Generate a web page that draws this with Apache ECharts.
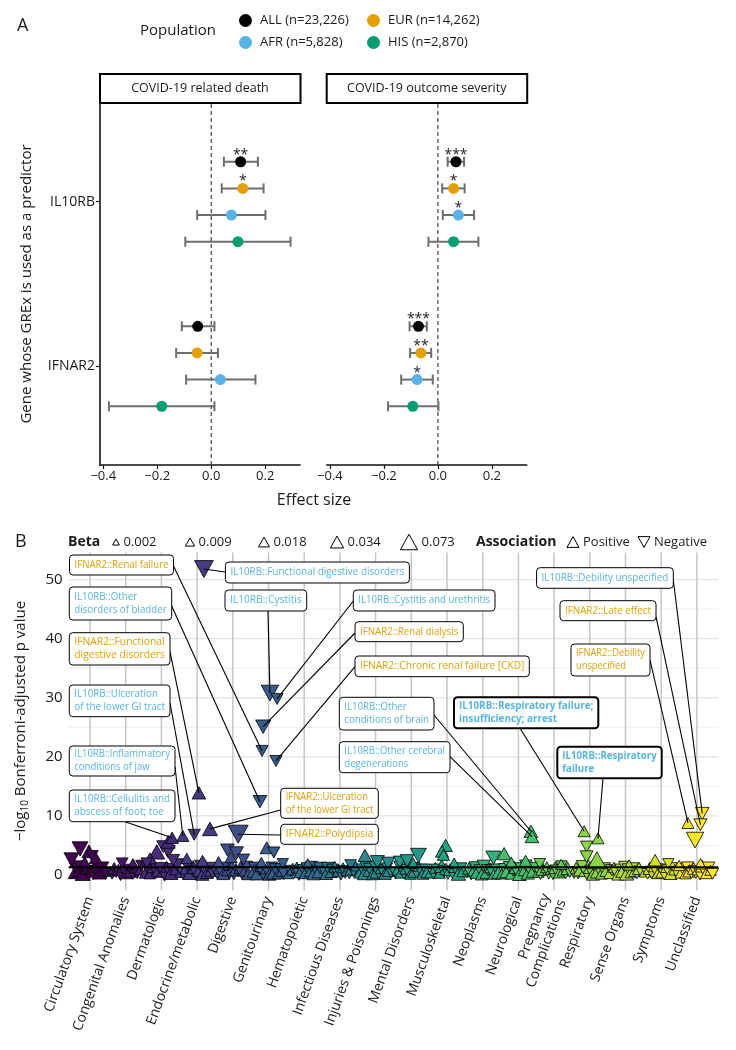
<!DOCTYPE html>
<html>
<head>
<meta charset="utf-8">
<script src="https://cdn.jsdelivr.net/npm/echarts@6/dist/echarts.min.js"></script>
<style>
html,body{margin:0;padding:0;background:#fff;}
#chart{width:736px;height:1050px;}
</style>
</head>
<body>
<div id="chart"></div>
<script>
// ---------- panel A data ----------
const populations = ['ALL (n=23,226)', 'EUR (n=14,262)', 'AFR (n=5,828)', 'HIS (n=2,870)'];
const popColors = ['#000000', '#E69F00', '#56B4E9', '#009E73'];
const genes = ['IFNAR2', 'IL10RB'];           // y = 1, 2
const outcomes = ['COVID-19 related death', 'COVID-19 outcome severity'];
const effectTicks = [-0.4, -0.2, 0, 0.2];
// rows: ALL, EUR, AFR, HIS -> [effect, lower CI, upper CI, stars]
const deathIL10RB = [[0.109, 0.047, 0.173, '**'], [0.117, 0.039, 0.194, '*'], [0.075, -0.052, 0.201, ''], [0.099, -0.096, 0.294, '']];
const deathIFNAR2 = [[-0.050, -0.109, 0.012, ''], [-0.052, -0.130, 0.025, ''], [0.034, -0.093, 0.164, ''], [-0.183, -0.379, 0.012, '']];
const severityIL10RB = [[0.067, 0.036, 0.097, '***'], [0.058, 0.016, 0.099, '*'], [0.076, 0.018, 0.134, '*'], [0.058, -0.035, 0.150, '']];
const severityIFNAR2 = [[-0.072, -0.105, -0.041, '***'], [-0.063, -0.103, -0.025, '**'], [-0.077, -0.136, -0.019, '*'], [-0.093, -0.185, 0.002, '']];

// ---------- panel B data ----------
const categories = ['Circulatory System', 'Congenital Anomalies', 'Dermatologic', 'Endocrine/metabolic', 'Digestive',
  'Genitourinary', 'Hematopoietic', 'Infectious Diseases', 'Injuries & Poisonings', 'Mental Disorders', 'Musculoskeletal',
  'Neoplasms', 'Neurological', 'Pregnancy\nComplications', 'Respiratory', 'Sense Organs', 'Symptoms', 'Unclassified'];
const logPTicks = [0, 10, 20, 30, 40, 50];
const betaLegend = [0.002, 0.009, 0.018, 0.034, 0.073];
const threshold = 1.301; // -log10(0.05)

// background phenotypes per category: [-log10 p, beta]
const band = [
  [[0.3,0.012],[1.0,-0.02],[0.5,0.008],[1.4,-0.015],[0.2,0.025],[0.8,-0.009],[1.2,0.018],[0.4,-0.03],[0.9,0.006],[0.1,-0.012],[1.5,0.02],[0.6,-0.01],[0.3,0.015],[1.1,-0.022],[0.7,0.009],[0.2,-0.014]],
  [[0.6,0.007],[0.2,-0.011],[1.1,0.016],[0.4,-0.006],[0.9,0.01],[0.1,-0.018],[1.3,0.008],[0.5,-0.009],[0.3,0.013],[1.0,-0.007],[0.7,0.02],[0.2,-0.012],[1.2,0.009],[0.4,-0.016],[0.8,0.006],[1.6,-0.01]],
  [[0.4,0.014],[1.2,-0.02],[0.2,0.009],[0.9,-0.012],[1.5,0.022],[0.3,-0.008],[0.7,0.017],[1.1,-0.015],[0.5,0.01],[0.1,-0.025],[1.4,0.012],[0.6,-0.009],[0.3,0.02],[1.0,-0.013],[0.8,0.007],[1.7,-0.018]],
  [[0.5,0.011],[0.2,-0.016],[1.0,0.009],[1.4,-0.012],[0.3,0.02],[0.8,-0.007],[1.2,0.014],[0.4,-0.022],[0.6,0.008],[1.6,-0.01],[0.1,0.016],[0.9,-0.013],[0.3,0.01],[1.1,-0.018],[0.7,0.012],[0.2,-0.008]],
  [[0.3,-0.013],[1.1,0.01],[0.6,-0.02],[0.2,0.015],[1.3,-0.009],[0.8,0.012],[0.4,-0.017],[1.6,0.008],[0.1,-0.011],[0.9,0.019],[0.5,-0.007],[1.2,0.013],[0.3,-0.024],[0.7,0.009],[1.4,-0.012],[0.2,0.016]],
  [[0.5,0.01],[1.2,-0.014],[0.2,0.018],[0.8,-0.008],[1.5,0.012],[0.3,-0.02],[1.0,0.007],[0.6,-0.012],[0.1,0.015],[1.3,-0.01],[0.4,0.022],[0.9,-0.016],[0.2,0.009],[1.1,-0.007],[0.7,0.013],[0.3,-0.019]],
  [[0.2,0.008],[0.7,-0.012],[1.0,0.015],[0.4,-0.007],[1.3,0.01],[0.1,-0.016],[0.6,0.02],[0.9,-0.009],[0.3,0.012],[1.1,-0.014],[0.5,0.007],[1.4,-0.011],[0.2,0.017],[0.8,-0.008],[0.4,0.01],[1.2,-0.013]],
  [[0.6,-0.01],[0.2,0.014],[1.1,-0.018],[0.4,0.008],[0.9,-0.012],[1.4,0.011],[0.3,-0.007],[0.7,0.016],[0.1,-0.013],[1.2,0.009],[0.5,-0.02],[0.8,0.012],[0.2,-0.009],[1.0,0.015],[0.6,-0.011],[1.5,0.007]],
  [[0.4,0.012],[1.0,-0.009],[0.2,0.016],[1.3,-0.014],[0.6,0.008],[0.9,-0.019],[0.1,0.011],[1.5,-0.01],[0.5,0.018],[0.3,-0.012],[1.1,0.009],[0.7,-0.016],[0.2,0.013],[1.2,-0.008],[0.8,0.02],[0.4,-0.011]],
  [[0.3,-0.015],[0.9,0.01],[1.4,-0.012],[0.5,0.018],[0.2,-0.009],[1.1,0.013],[0.7,-0.02],[0.1,0.008],[1.2,-0.011],[0.6,0.016],[0.4,-0.013],[1.5,0.009],[0.8,-0.017],[0.2,0.012],[1.0,-0.008],[0.5,0.014]],
  [[0.5,0.016],[0.2,-0.01],[1.2,0.012],[0.8,-0.018],[0.3,0.009],[1.5,0.02],[0.6,-0.012],[1.0,0.014],[0.1,-0.008],[0.9,0.017],[0.4,-0.015],[1.3,0.01],[0.7,-0.009],[0.2,0.022],[1.1,-0.013],[0.6,0.011]],
  [[0.4,-0.011],[1.1,0.015],[0.2,-0.017],[0.7,0.009],[1.3,-0.012],[0.5,0.02],[0.9,-0.008],[0.1,0.013],[1.5,-0.016],[0.3,0.01],[0.8,-0.014],[1.2,0.008],[0.6,-0.02],[0.2,0.012],[1.0,-0.009],[0.4,0.017]],
  [[0.3,0.014],[1.0,-0.012],[0.6,0.02],[1.4,-0.009],[0.2,0.011],[0.8,-0.016],[1.2,0.013],[0.4,-0.01],[0.1,0.018],[1.1,-0.014],[0.7,0.008],[1.6,-0.012],[0.3,0.016],[0.9,-0.02],[0.5,0.01],[1.3,-0.008]],
  [[0.5,0.01],[0.2,-0.014],[1.0,0.018],[0.7,-0.009],[1.3,0.012],[0.3,-0.016],[0.9,0.008],[0.1,-0.011],[1.2,0.015],[0.6,-0.02],[0.4,0.011],[1.5,-0.01],[0.8,0.014],[0.2,-0.008],[1.1,0.017],[0.5,-0.012]],
  [[0.4,-0.016],[1.2,0.012],[0.2,-0.009],[0.9,0.02],[1.5,-0.013],[0.6,0.01],[0.3,-0.018],[1.1,0.008],[0.7,-0.012],[0.1,0.015],[1.3,-0.01],[0.5,0.017],[0.9,-0.014],[0.2,0.011],[1.0,-0.02],[0.6,0.009]],
  [[0.3,0.011],[0.8,-0.013],[1.3,0.009],[0.5,-0.018],[0.1,0.014],[1.0,-0.008],[0.6,0.016],[1.4,-0.011],[0.2,0.02],[0.9,-0.015],[0.4,0.01],[1.2,-0.009],[0.7,0.013],[0.3,-0.012],[1.1,0.018],[0.5,-0.01]],
  [[0.6,0.013],[0.2,-0.011],[1.1,0.017],[0.4,-0.015],[1.4,0.009],[0.8,-0.02],[0.3,0.012],[1.0,-0.008],[0.5,0.016],[0.1,-0.013],[1.3,0.01],[0.7,-0.017],[0.2,0.014],[1.2,-0.009],[0.9,0.011],[0.4,-0.012]],
  [[0.4,0.012],[1.0,-0.016],[0.2,0.009],[1.3,-0.011],[0.7,0.018],[0.3,-0.009],[1.1,0.014],[0.5,-0.02],[0.9,0.01],[0.1,-0.013],[1.5,0.016],[0.6,-0.008],[0.3,0.012],[1.2,-0.015],[0.8,0.009],[0.2,-0.011]]
];
// elevated, unlabelled phenotypes: [x (phenotype order), -log10 p, beta]
const peaks = [
  [0.72,4.4,-0.03],[0.97,4.0,0.02],[1.06,3.2,-0.012],[1.16,2.9,0.014],[0.48,2.6,-0.025],[0.85,2.2,0.01],
  [1.9,2.0,-0.01],[2.2,1.9,0.009],
  [2.87,3.9,0.03],[3.19,3.9,-0.02],[2.68,2.8,0.012],[3.33,2.5,-0.014],[2.59,2.0,-0.01],[3.05,4.8,-0.015],[3.19,5.6,0.02],
  [3.71,2.8,0.01],[4.15,2.4,0.012],
  [4.85,4.2,-0.018],[5.1,3.7,-0.02],[4.95,3.0,0.012],[5.3,2.6,-0.012],[4.6,2.2,0.01],
  [5.95,4.6,0.016],[6.15,3.8,-0.012],[5.8,2.1,0.01],[6.4,1.9,-0.009],
  [7.1,1.9,0.008],[8.3,1.7,-0.01],
  [8.7,3.3,0.018],[9.05,2.2,-0.02],[9.35,2.0,-0.016],
  [9.68,2.2,-0.015],[9.88,2.4,-0.018],[10.2,3.3,-0.03],[10.05,2.0,0.01],
  [10.96,5.0,0.018],[10.86,4.0,0.015],[10.9,3.4,0.012],[11.2,2.0,0.009],
  [12.3,2.9,-0.025],[12.6,3.6,0.018],[12.8,2.1,0.012],
  [13.2,2.4,0.012],[13.6,1.9,-0.01],[14.2,1.8,0.009],
  [14.91,4.8,-0.012],[14.91,3.1,-0.015],[15.2,2.5,0.05],
  [16.1,1.7,0.009],[16.83,2.5,0.014],[17.2,1.9,-0.009],
  [17.95,5.9,-0.04],[18.1,1.9,0.01],[17.5,1.6,0.009]
];
// labelled phenotypes: [gene, phenotype, x (phenotype order), -log10 p, beta]
const hits = [
  ['IFNAR2', 'Renal failure', 5.82, 21.0, -0.012],
  ['IL10RB', 'Functional digestive disorders', 4.19, 51.8, -0.05],
  ['IL10RB', 'Other\ndisorders of bladder', 5.76, 12.4, -0.018],
  ['IL10RB', 'Cystitis', 6.04, 30.8, -0.04],
  ['IL10RB', 'Cystitis and urethritis', 6.24, 29.8, -0.012],
  ['IFNAR2', 'Functional\ndigestive disorders', 4.05, 13.9, 0.018],
  ['IFNAR2', 'Renal dialysis', 5.85, 25.1, -0.025],
  ['IFNAR2', 'Chronic renal failure [CKD]', 6.21, 19.3, -0.012],
  ['IL10RB', 'Ulceration\nof the lower GI tract', 3.92, 6.8, -0.012],
  ['IL10RB', 'Other\nconditions of brain', 13.35, 7.4, 0.018],
  ['IL10RB', 'Other cerebral\ndegenerations', 13.38, 6.5, 0.018],
  ['IL10RB', 'Inflammatory\nconditions of jaw', 3.6, 6.6, 0.012],
  ['IL10RB', 'Cellulitis and\nabscess of foot; toe', 3.3, 6.3, 0.014],
  ['IFNAR2', 'Ulceration\nof the lower GI tract', 4.36, 7.8, 0.025],
  ['IFNAR2', 'Polydipsia', 5.15, 6.9, -0.06],
  ['IL10RB', 'Respiratory failure;\ninsufficiency; arrest', 14.84, 7.4, 0.012],
  ['IL10RB', 'Respiratory\nfailure', 15.23, 6.2, 0.012],
  ['IL10RB', 'Debility unspecified', 18.15, 10.4, -0.018],
  ['IFNAR2', 'Late effect', 18.1, 8.5, -0.016],
  ['IFNAR2', 'Debility\nunspecified', 17.75, 8.8, 0.012]
];
// label box layout (pixels): left, top, width, height, segment start x, y, bold
const hitBoxes = [
  [69.5, 555, 104, 20, 173.5, 566, 0],
  [225.4, 562, 184, 21, 225.4, 572, 0],
  [69.3, 587, 102.4, 33, 171.7, 606, 0],
  [225, 590, 81.7, 21, 268, 611, 0],
  [353.3, 590, 141.7, 21, 353.3, 601, 0],
  [69.3, 632.7, 100.7, 32.3, 170, 651.7, 0],
  [355, 621.7, 108.3, 20, 355, 633, 0],
  [355, 656, 174.3, 20.7, 355, 666.7, 0],
  [69.3, 685, 100.7, 31.7, 170, 703, 0],
  [339.3, 697.3, 94.7, 32.7, 434, 715, 0],
  [339.3, 741.7, 110.7, 31, 450, 756.7, 0],
  [69.3, 746, 105.7, 30, 175, 766.7, 0],
  [69.3, 790, 105.7, 31.7, 125, 821.7, 0],
  [280.7, 788.3, 97.6, 30, 280.7, 810, 0],
  [280.7, 824.3, 97.6, 20, 280.7, 835, 0],
  [454, 697.3, 144.3, 31, 520, 728.3, 1],
  [557.3, 746.7, 104.4, 31.6, 603, 778.3, 1],
  [536.6, 567.7, 136.7, 20.6, 673.3, 580, 0],
  [560, 600.7, 96, 20, 656, 616.7, 0],
  [571, 644, 79, 32, 650, 660, 0]
];

const FONT = '"Open Sans", "DejaVu Sans", sans-serif';
const INK = '#1a1a1a';
const geneColor = {IL10RB: '#56B4E9', IFNAR2: '#E69F00'};

// viridis palette for the phenotype categories
const viridisStops = ['#440154','#482475','#414487','#355f8d','#2a788e','#21918c','#22a884','#44bf70','#7ad151','#bddf26','#fde725'];
const hex2rgb = h => [1, 3, 5].map(i => parseInt(h.substr(i, 2), 16));
const viridis = t => {
  const s = Math.max(0, Math.min(1, t)) * 10;
  const i = Math.min(9, Math.floor(s)), f = s - i;
  const a = hex2rgb(viridisStops[i]), b = hex2rgb(viridisStops[i + 1]);
  return 'rgb(' + a.map((v, k) => Math.round(v + (b[k] - v) * f)).join(',') + ')';
};
const catColor = x => viridis((Math.min(18, Math.max(1, Math.round(x))) - 1) / 17);

const betaSize = b => {
  const lo = Math.sqrt(0.002), hi = Math.sqrt(0.073);
  return 8.5 + 13 * (Math.sqrt(Math.abs(b)) - lo) / (hi - lo);
};
const tri = (x, y, b) => {
  const s = betaSize(b);
  return {value: [x, y, b], symbolSize: [s, s * 0.9], symbolRotate: b < 0 ? 180 : 0, itemStyle: {color: catColor(x)}};
};

const measureCtx = document.createElement('canvas').getContext('2d');
const textWidth = (str, font) => {
  measureCtx.font = font;
  return Math.max(...str.split('\n').map(s => measureCtx.measureText(s).width));
};

const chart = echarts.init(document.getElementById('chart'));
const series = [];

// ---------- panel A ----------
const dodge = [0.243, 0.081, -0.081, -0.243];
const facets = [[deathIL10RB, deathIFNAR2], [severityIL10RB, severityIFNAR2]];

const errorBar = (params, api) => {
  const a = api.coord([api.value(0), api.value(2)]);
  const b = api.coord([api.value(1), api.value(2)]);
  const c = 5;
  const style = {stroke: '#6e6e6e', lineWidth: 2, fill: null};
  return {type: 'group', children: [
    {type: 'line', shape: {x1: a[0], y1: a[1], x2: b[0], y2: b[1]}, style},
    {type: 'line', shape: {x1: a[0], y1: a[1] - c, x2: a[0], y2: a[1] + c}, style},
    {type: 'line', shape: {x1: b[0], y1: b[1] - c, x2: b[0], y2: b[1] + c}, style}
  ]};
};

facets.forEach((f, fi) => {
  series.push({
    type: 'line', xAxisIndex: fi, yAxisIndex: fi, data: [[0, 0.4], [0, 2.6]], symbol: 'none', silent: true,
    lineStyle: {type: [4, 3], color: '#333', width: 1.1}, z: 1
  });
  const bars = [];
  populations.forEach((pop, pi) => {
    const pts = [];
    [[2, f[0][pi]], [1, f[1][pi]]].forEach(([gy, r]) => {
      pts.push({value: [r[0], gy + dodge[pi]], stars: r[3]});
      bars.push([r[1], r[2], gy + dodge[pi]]);
    });
    series.push({
      type: 'scatter', name: pop, xAxisIndex: fi, yAxisIndex: fi, data: pts, symbolSize: 11, z: 4,
      itemStyle: {color: popColors[pi], opacity: 1},
      label: {show: true, position: 'inside', offset: [0, -7], formatter: p => p.data.stars,
        fontSize: 14, color: '#222', fontFamily: FONT}
    });
  });
  series.push({type: 'custom', xAxisIndex: fi, yAxisIndex: fi, data: bars, encode: {x: [0, 1], y: 2},
    renderItem: errorBar, z: 2, silent: true});
});

// ---------- panel B ----------
series.push({
  type: 'custom', xAxisIndex: 2, yAxisIndex: 2, data: [[1, 1]], silent: true, z: 0,
  renderItem: (params, api) => {
    const children = [];
    for (let v = 0; v <= 50; v += 5) {
      const a = api.coord([0.4, v]), b = api.coord([18.6, v]);
      children.push({type: 'line', shape: {x1: a[0], y1: a[1], x2: b[0], y2: b[1]},
        style: {stroke: v % 10 === 0 ? '#e2e2e2' : '#eeeeee', lineWidth: v % 10 === 0 ? 1.3 : 1}});
    }
    categories.forEach((c, i) => {
      const a = api.coord([i + 1, -2.6]), b = api.coord([i + 1, 54.6]);
      children.push({type: 'line', shape: {x1: a[0], y1: a[1], x2: b[0], y2: b[1]},
        style: {stroke: '#c6c6c6', lineWidth: 1.5}});
    });
    return {type: 'group', children};
  }
});

band.forEach((pts, ci) => {
  series.push({
    type: 'scatter', xAxisIndex: 2, yAxisIndex: 2, symbol: 'triangle', z: 2, silent: true,
    itemStyle: {borderColor: '#000', borderWidth: 0.8, opacity: 1},
    data: pts.map((d, j) => tri(ci + 1 - 0.47 + 0.94 * (j + 0.5) / pts.length, d[0], d[1]))
  });
});
series.push({
  type: 'scatter', xAxisIndex: 2, yAxisIndex: 2, symbol: 'triangle', z: 3, silent: true,
  itemStyle: {borderColor: '#000', borderWidth: 0.8, opacity: 1},
  data: peaks.map(d => tri(d[0], d[1], d[2])).concat(hits.map(h => tri(h[2], h[3], h[4])))
});
series.push({
  type: 'line', xAxisIndex: 2, yAxisIndex: 2, data: [[0.4, threshold], [18.6, threshold]], symbol: 'none',
  silent: true, lineStyle: {color: '#000', width: 1.8}, z: 4
});
series.push({
  type: 'custom', xAxisIndex: 2, yAxisIndex: 2, data: hits.map(h => [h[2], h[3]]), z: 6, clip: false, silent: true,
  renderItem: (params, api) => {
    const i = params.dataIndex;
    const [gene, trait] = hits[i];
    const [bx, by, bw, bh, ax, ay, bold] = hitBoxes[i];
    const p = api.coord([api.value(0), api.value(1)]);
    const txt = gene + '::' + trait;
    const font = (bold ? 'bold ' : '') + '10.5px ' + FONT;
    const pad = 5;
    const sx = Math.min(1, (bw - 2 * pad) / textWidth(txt, font));
    return {type: 'group', children: [
      {type: 'line', shape: {x1: ax, y1: ay, x2: p[0], y2: p[1]}, style: {stroke: '#000', lineWidth: 1.1}},
      {type: 'rect', shape: {x: bx, y: by, width: bw, height: bh, r: 3.5},
        style: {fill: '#fff', stroke: '#000', lineWidth: bold ? 2 : 1}},
      {type: 'text', x: bx + pad, y: by + bh / 2, scaleX: sx,
        style: {text: txt, font, fill: geneColor[gene], align: 'left', verticalAlign: 'middle', lineHeight: 13}}
    ]};
  }
});

// ---------- axes ----------
const effectAxis = gi => ({
  gridIndex: gi, type: 'value', min: -0.412, max: 0.329,
  axisLine: {show: true, onZero: false, lineStyle: {color: '#111', width: 1.6}},
  axisTick: {show: true, length: 4, customValues: effectTicks, lineStyle: {color: '#111', width: 1.2}},
  axisLabel: {customValues: effectTicks, formatter: v => (v < 0 ? '\u2212' : '') + Math.abs(v).toFixed(1),
    fontSize: 13, color: INK, margin: 5, fontFamily: FONT},
  splitLine: {show: false}
});

// ---------- annotation graphics ----------
const graphic = [
  {type: 'text', x: 17, y: 26, style: {text: 'A', font: '18px ' + FONT, fill: INK, verticalAlign: 'middle'}},
  {type: 'text', x: 140, y: 31, style: {text: 'Population', font: '15px ' + FONT, fill: INK, verticalAlign: 'middle'}},
  {type: 'text', x: 314, y: 500, style: {text: 'Effect size', font: '16px ' + FONT, fill: INK, align: 'center', verticalAlign: 'middle'}},
  {type: 'text', x: 27, y: 284, rotation: Math.PI / 2,
    style: {text: 'Gene whose GREx is used as a predictor', font: '15px ' + FONT, fill: INK, align: 'center', verticalAlign: 'middle'}},
  {type: 'text', x: 15, y: 542, style: {text: 'B', font: '18px ' + FONT, fill: INK, verticalAlign: 'middle'}},
  {type: 'text', x: 68, y: 542, style: {text: 'Beta', font: 'bold 14px ' + FONT, fill: INK, verticalAlign: 'middle'}},
  {type: 'text', x: 476, y: 542, style: {text: 'Association', font: 'bold 14px ' + FONT, fill: INK, verticalAlign: 'middle'}},
  {type: 'text', x: 21, y: 721, rotation: Math.PI / 2,
    style: {text: '{a|\u2212log}{s|10}{a| Bonferroni-adjusted p value}', fill: INK, align: 'center', verticalAlign: 'middle',
      rich: {a: {fontSize: 15, fontFamily: FONT, lineHeight: 18}, s: {fontSize: 10, fontFamily: FONT, verticalAlign: 'bottom', lineHeight: 18}}}}
];
outcomes.forEach((o, i) => {
  const left = [100, 326.7][i];
  graphic.push({type: 'rect', shape: {x: left, y: 74, width: 200.5, height: 29}, style: {fill: '#fff', stroke: '#000', lineWidth: 2}});
  graphic.push({type: 'text', x: left + 100, y: 88.5, style: {text: o, font: '12.5px ' + FONT, fill: INK, align: 'center', verticalAlign: 'middle'}});
});
const triPoints = (cx, cy, s, down) => {
  const h = s * 0.9;
  return down ? [[cx - s / 2, cy - h / 2], [cx + s / 2, cy - h / 2], [cx, cy + h / 2]]
              : [[cx, cy - h / 2], [cx + s / 2, cy + h / 2], [cx - s / 2, cy + h / 2]];
};
const betaLegendX = [116, 190, 264, 337, 409];
betaLegend.forEach((b, i) => {
  const s = betaSize(b) * 0.8;
  graphic.push({type: 'polygon', shape: {points: triPoints(betaLegendX[i], 542, s, false)}, style: {fill: '#fff', stroke: '#000', lineWidth: 1}});
  graphic.push({type: 'text', x: betaLegendX[i] + s / 2 + 4, y: 542, style: {text: String(b), font: '13px ' + FONT, fill: INK, verticalAlign: 'middle'}});
});
[['Positive', 573, false], ['Negative', 644, true]].forEach(([t, x, down]) => {
  graphic.push({type: 'polygon', shape: {points: triPoints(x, 542, 12, down)}, style: {fill: '#fff', stroke: '#000', lineWidth: 1}});
  graphic.push({type: 'text', x: x + 10, y: 542, style: {text: t, font: '13px ' + FONT, fill: INK, verticalAlign: 'middle'}});
});

const legendBase = {orient: 'vertical', top: 9, itemGap: 9, itemWidth: 13, itemHeight: 13, icon: 'circle', selectedMode: false,
  textStyle: {fontSize: 13, color: INK, fontFamily: FONT, padding: [0, 0, 0, 3]}};

const option = {
  animation: false,
  backgroundColor: '#fff',
  textStyle: {fontFamily: FONT},
  grid: [
    {left: 100, top: 103, width: 200, height: 362},
    {left: 326.7, top: 103, width: 200, height: 362},
    {left: 68.6, top: 552.5, width: 649.7, height: 337.8}
  ],
  legend: [
    Object.assign({}, legendBase, {left: 234, data: [populations[0], populations[2]]}),
    Object.assign({}, legendBase, {left: 362, data: [populations[1], populations[3]]})
  ],
  xAxis: [effectAxis(0), effectAxis(1), {
    gridIndex: 2, type: 'value', min: 0.4, max: 18.6,
    axisLine: {show: false}, axisTick: {show: false},
    axisLabel: {customValues: categories.map((c, i) => i + 1), formatter: v => categories[v - 1],
      rotate: 70, fontSize: 14, color: INK, margin: 7, fontFamily: FONT, lineHeight: 17},
    splitLine: {show: false}
  }],
  yAxis: [{
    gridIndex: 0, type: 'value', min: 0.4, max: 2.6,
    axisLine: {show: true, onZero: false, lineStyle: {color: '#111', width: 1.6}},
    axisTick: {show: true, length: 4, customValues: [1, 2], lineStyle: {color: '#111', width: 1.2}},
    axisLabel: {customValues: [1, 2], formatter: v => genes[v - 1], fontSize: 14, color: INK, margin: 5, fontFamily: FONT},
    splitLine: {show: false}
  }, {
    gridIndex: 1, type: 'value', min: 0.4, max: 2.6,
    axisLine: {show: false}, axisTick: {show: false}, axisLabel: {show: false}, splitLine: {show: false}
  }, {
    gridIndex: 2, type: 'value', min: -2.6, max: 54.6,
    axisLine: {show: false, onZero: false}, axisTick: {show: false},
    axisLabel: {customValues: logPTicks, fontSize: 15, color: INK, margin: 6, fontFamily: FONT},
    splitLine: {show: false}
  }],
  graphic,
  series
};
chart.setOption(option);
</script>
</body>
</html>
